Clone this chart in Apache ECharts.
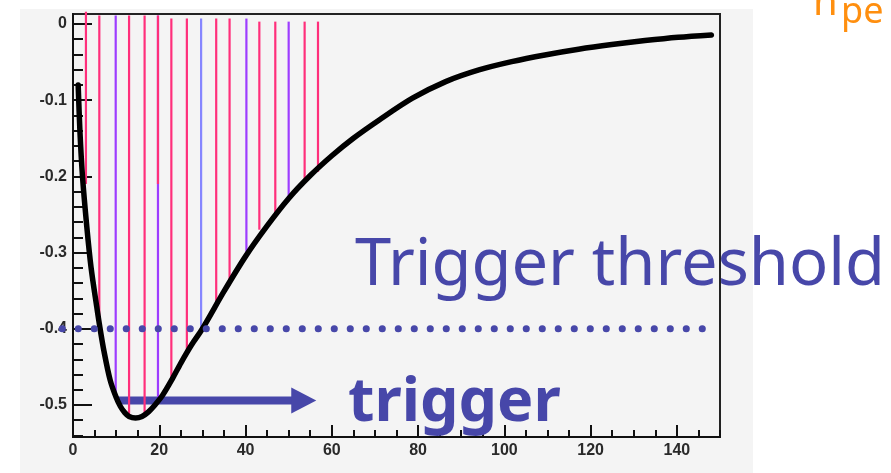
<!DOCTYPE html>
<html>
<head>
<meta charset="utf-8">
<title>Trigger threshold</title>
<script src="https://cdn.jsdelivr.net/npm/echarts@6/dist/echarts.min.js"></script>
<style>
  html, body { margin: 0; padding: 0; background: #fff; }
  #main { width: 891px; height: 473px; }
</style>
</head>
<body>
<div id="main"></div>
<script>
// pulse shape (x, amplitude)
var pulseX = [1.2, 1.6, 2.2, 3.2, 4.2, 5.5, 6.2, 7.2, 8.6, 10, 11, 12, 13, 14.5, 16, 17.5, 19, 20.8, 23, 25, 27.5,
              30, 35, 40, 45, 50, 55, 60, 65, 71, 78.7, 86.4, 94.1, 101.7, 109.4, 117.2, 124.9, 132.6, 140.3, 148];
var pulseY = [-0.08, -0.14, -0.2, -0.266, -0.32, -0.371, -0.397, -0.43, -0.467, -0.49, -0.502, -0.51, -0.515, -0.517,
              -0.515, -0.509, -0.5, -0.487, -0.466, -0.445, -0.421, -0.4, -0.351, -0.305, -0.265, -0.229, -0.199,
              -0.173, -0.15, -0.126, -0.0975, -0.0757, -0.0604, -0.0495, -0.0407, -0.0332, -0.0271, -0.0219, -0.0175, -0.0144];

// photoelectron sticks
var stickX      = [3.0, 6.1, 9.9, 13.0, 16.6, 19.7, 19.7, 22.8, 26.4, 29.7, 33.2, 36.3, 40.2, 43.2, 46.9, 50.0, 53.7, 56.8];
var stickTop    = [0.016, 0.011, 0.011, 0.011, 0.011, 0.011, 0.011, 0.007, 0.007, 0.007, 0.007, 0.007, 0.007, 0.003, 0.003, 0.003, 0.003, 0.003];
var stickBottom = [-0.21, -0.397, -0.485, -0.513, -0.513, -0.49, -0.21, -0.463, -0.432, -0.404, -0.369, -0.343, -0.299, -0.27, -0.252, -0.227, -0.209, -0.194];
var stickKind   = ['pink', 'pink', 'purple', 'pink', 'pink', 'purple', 'pink', 'pink', 'pink', 'blue', 'pink', 'pink', 'purple', 'pink', 'pink', 'purple', 'pink', 'pink'];
var stickPalette = { pink: '#ff2f7b', purple: '#9d3dff', blue: '#8585ff' };

// threshold and trigger arrow
var thresholdX = [-2.5, 146.4];
var thresholdY = -0.4;
var arrowX = [10.4, 53.5];
var arrowY = -0.494;

// ticks
var xMajor = [0, 20, 40, 60, 80, 100, 120, 140];
var yMajor = [0, -0.1, -0.2, -0.3, -0.4, -0.5];
var xMinor = [];
for (var i = 0; i <= 150; i += 5) xMinor.push(i);
var yMinor = [];
for (var j = 0; j <= 27; j++) yMinor.push(Math.round(-j * 0.02 * 100) / 100);

var textBlue = '#4747a9';
var labelStyle = { fontFamily: 'Liberation Sans', fontSize: 16, fontWeight: 'bold', color: '#2a2a2a' };

var chart = echarts.init(document.getElementById('main'));

var option = {
    backgroundColor: '#ffffff',
    animation: false,
    grid: {
        left: 73, top: 14, right: 171, bottom: 36,
        show: true,
        backgroundColor: '#f4f4f4',
        borderColor: '#222',
        borderWidth: 2,
        outerBoundsMode: 'none'
    },
    xAxis: [{
        type: 'value', min: 0, max: 150, position: 'bottom',
        axisLine: { show: true, onZero: false, lineStyle: { color: '#111', width: 2 } },
        axisTick: { show: true, inside: true, length: 12, customValues: xMajor, lineStyle: { color: '#111', width: 2 } },
        axisLabel: Object.assign({ customValues: xMajor, margin: 6 }, labelStyle),
        splitLine: { show: false }
    }, {
        type: 'value', min: 0, max: 150, position: 'bottom',
        axisLine: { show: false, onZero: false },
        axisTick: { show: true, inside: true, length: 7, customValues: xMinor, lineStyle: { color: '#111', width: 2 } },
        axisLabel: { show: false },
        splitLine: { show: false }
    }],
    yAxis: [{
        type: 'value', min: -0.542, max: 0.013, position: 'left',
        axisLine: { show: true, onZero: false, lineStyle: { color: '#111', width: 2 } },
        axisTick: { show: true, inside: true, length: 19, customValues: yMajor, lineStyle: { color: '#111', width: 2 } },
        axisLabel: Object.assign({ customValues: yMajor, margin: 6 }, labelStyle),
        splitLine: { show: false }
    }, {
        type: 'value', min: -0.542, max: 0.013, position: 'left',
        axisLine: { show: false, onZero: false },
        axisTick: { show: true, inside: true, length: 10, customValues: yMinor, lineStyle: { color: '#111', width: 2 } },
        axisLabel: { show: false },
        splitLine: { show: false }
    }],
    graphic: [
        { type: 'rect', z: -10, silent: true, shape: { x: 20, y: 9, width: 733, height: 464 }, style: { fill: '#f4f4f4' } },
        { type: 'text', z: 100, x: 355, y: 266, style: { text: 'Trigger threshold', font: '65px "Noto Sans"', fill: textBlue, verticalAlign: 'middle' } },
        { type: 'text', z: 100, x: 348, y: 404, style: { text: 'trigger', font: 'bold 61px "Noto Sans"', fill: textBlue, verticalAlign: 'middle' } },
        { type: 'text', z: 100, x: 813, y: 4, style: { text: 'n', font: '40px "Noto Sans"', fill: '#ff8f0f', verticalAlign: 'middle' } },
        { type: 'text', z: 100, x: 841, y: 13, style: { text: 'pe', font: '36px "Noto Sans"', fill: '#ff8f0f', verticalAlign: 'middle' } }
    ],
    series: [{
        name: 'arrow',
        type: 'line',
        z: 2,
        data: [
            { value: [arrowX[0], arrowY], symbol: 'none' },
            { value: [arrowX[1], arrowY], symbol: 'triangle', symbolSize: [26, 25], symbolRotate: -90 }
        ],
        showSymbol: true,
        lineStyle: { color: textBlue, width: 8 },
        itemStyle: { color: textBlue },
        silent: true
    }, {
        name: 'sticks',
        type: 'custom',
        z: 3,
        clip: false,
        encode: { x: 0, y: [1, 2] },
        data: stickX.map(function (x, k) { return [x, stickTop[k], stickBottom[k]]; }),
        renderItem: function (params, api) {
            var p0 = api.coord([api.value(0), api.value(1)]);
            var p1 = api.coord([api.value(0), api.value(2)]);
            return {
                type: 'line',
                shape: { x1: p0[0], y1: p0[1], x2: p1[0], y2: p1[1] },
                style: { stroke: stickPalette[stickKind[params.dataIndex]], lineWidth: 2.2 }
            };
        }
    }, {
        name: 'pulse',
        type: 'line',
        z: 4,
        smooth: 0.3,
        symbol: 'none',
        data: pulseX.map(function (x, k) { return [x, pulseY[k]]; }),
        lineStyle: { color: '#000', width: 5.5, cap: 'round' }
    }, {
        name: 'threshold',
        type: 'custom',
        z: 5,
        clip: false,
        encode: { x: [0, 1], y: 2 },
        data: [[thresholdX[0], thresholdX[1], thresholdY]],
        renderItem: function (params, api) {
            var p0 = api.coord([api.value(0), api.value(2)]);
            var p1 = api.coord([api.value(1), api.value(2)]);
            return {
                type: 'line',
                shape: { x1: p0[0], y1: p0[1], x2: p1[0], y2: p1[1] },
                style: { stroke: textBlue, lineWidth: 7, lineDash: [0.1, 15.9], lineCap: 'round' }
            };
        }
    }]
};

chart.setOption(option);
</script>
</body>
</html>
